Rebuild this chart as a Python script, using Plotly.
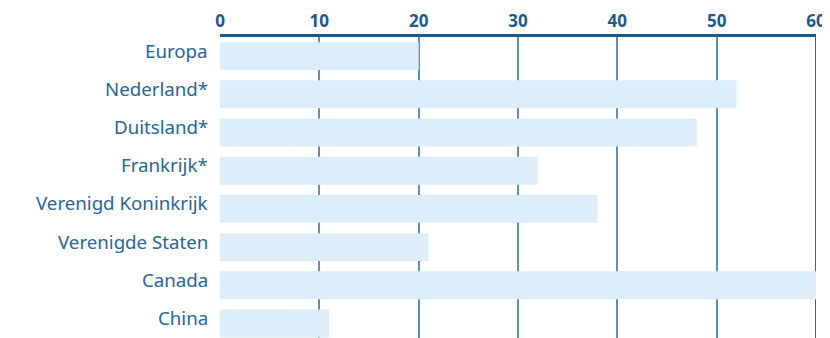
import plotly.graph_objects as go

categories = ["Europa", "Nederland*", "Duitsland*", "Frankrijk*", "Verenigd Koninkrijk",
              "Verenigde Staten", "Canada", "China"]
values = [20, 52, 48, 32, 38, 21, 60, 11]
x_ticks = [0, 10, 20, 30, 40, 50, 60]

fig = go.Figure()
fig.add_trace(go.Bar(
    y=categories, x=values, orientation="h",
    marker=dict(color="#dcedf9", line=dict(width=0)),
    hoverinfo="x+y",
))

# page body has an 8px offset; compensate in size and margins
fig.update_layout(
    width=822, height=330,
    margin=dict(l=211.5, r=13.5, t=29, b=0),
    paper_bgcolor="white", plot_bgcolor="white",
    bargap=0.27,
    showlegend=False,
    font=dict(family="Noto Sans", color="#1f5f96"),
)
fig.update_xaxes(
    side="top", range=[0, 60], tickvals=x_ticks, ticktext=[str(v) for v in x_ticks],
    showgrid=True, gridcolor="#5b8fbd", gridwidth=1.5,
    showline=True, linecolor="#1b5a90", linewidth=2.5,
    zeroline=False, ticks="", ticklabelstandoff=0,
    tickfont=dict(family="Noto Sans", size=17, color="#1b5a90", weight="bold"),
    layer="below traces",
)
fig.update_yaxes(
    categoryorder="array", categoryarray=categories,
    range=[7.38, -0.5], showgrid=False, showline=False, zeroline=False,
    ticks="", showticklabels=False,
)
fig.add_shape(type="line", xref="x", yref="paper", x0=60, x1=60, y0=0, y1=1,
              line=dict(color="#1b5a90", width=1.8), layer="below")
for c in categories:
    fig.add_annotation(
        x=0, xref="paper", y=c, yref="y", text=c, showarrow=False,
        xanchor="right", yanchor="middle", xshift=-10, yshift=6,
        font=dict(family="Noto Sans", size=18.7, color="#2565a0"),
    )

fig.write_html("out.html")
